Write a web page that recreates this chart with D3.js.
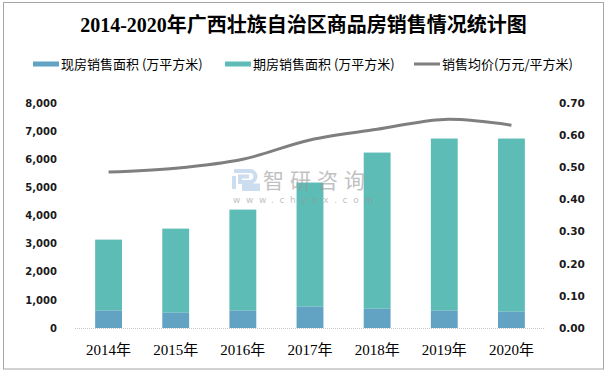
<!DOCTYPE html>
<html>
<head>
<meta charset="utf-8">
<script src="https://cdn.jsdelivr.net/npm/d3@7"></script>
<style>
body { margin: 0; background: #fff; }
svg { display: block; }
</style>
</head>
<body>
<div id="chart"></div>
<script>
// data
var years = ["2014年", "2015年", "2016年", "2017年", "2018年", "2019年", "2020年"];
var xianfang = [616, 545, 616, 758, 687, 616, 580];       // 现房销售面积
var qifang = [2526, 2989, 3594, 4413, 5551, 6121, 6157];  // 期房销售面积
var price = [0.485, 0.497, 0.525, 0.585, 0.618, 0.649, 0.631]; // 销售均价
var leftTicks = [0, 1000, 2000, 3000, 4000, 5000, 6000, 7000, 8000];
var rightTicks = [0, 0.1, 0.2, 0.3, 0.4, 0.5, 0.6, 0.7];

var W = 607, H = 373;
var cjk = "'Noto Sans CJK SC', sans-serif";

var svg = d3.select("#chart").append("svg")
  .attr("width", W).attr("height", H);

// outer border
svg.append("rect")
  .attr("x", 3.5).attr("y", 2.5)
  .attr("width", 600).attr("height", 366.5)
  .attr("fill", "none").attr("stroke", "#a6a6a6");

// title
svg.append("text")
  .attr("x", 303.5).attr("y", 32)
  .attr("text-anchor", "middle")
  .style("font-family", "'Liberation Serif', 'Noto Sans CJK SC', serif")
  .style("font-weight", "bold")
  .style("font-size", "20px")
  .attr("fill", "#000")
  .text("2014-2020年广西壮族自治区商品房销售情况统计图");

// scales
var x = d3.scaleBand().domain(years).range([75, 545]).paddingInner(0.6).paddingOuter(0.3);
var y = d3.scaleLinear().domain([0, 8000]).range([328, 103]);
var y2 = d3.scaleLinear().domain([0, 0.7]).range([328, 103]);

// stacked bars
var stacks = years.map(function(d, i) {
  return { year: d, a: xianfang[i], b: qifang[i] };
});

svg.append("g").selectAll("rect")
  .data(stacks)
  .enter().append("rect")
  .attr("x", function(d) { return x(d.year); })
  .attr("width", x.bandwidth())
  .attr("y", function(d) { return y(d.a + d.b); })
  .attr("height", function(d) { return y(d.a) - y(d.a + d.b); })
  .attr("fill", "#5dbcb5");

svg.append("g").selectAll("rect")
  .data(stacks)
  .enter().append("rect")
  .attr("x", function(d) { return x(d.year); })
  .attr("width", x.bandwidth())
  .attr("y", function(d) { return y(d.a); })
  .attr("height", function(d) { return y(0) - y(d.a); })
  .attr("fill", "#62a2c2");

// baseline
svg.append("line")
  .attr("x1", 75).attr("x2", 545)
  .attr("y1", 328.5).attr("y2", 328.5)
  .attr("stroke", "#c8c8c8").attr("stroke-dasharray", "1,1");

// price line
var line = d3.line()
  .x(function(d, i) { return x(years[i]) + x.bandwidth() / 2; })
  .y(function(d) { return y2(d); })
  .curve(d3.curveCatmullRom.alpha(0.5));

svg.append("path")
  .datum(price)
  .attr("d", line)
  .attr("fill", "none")
  .attr("stroke", "#7f7f7f")
  .attr("stroke-width", 3);

// watermark (sits on top of the bars, semi transparent)
var wm = svg.append("g").attr("opacity", 0.6);
wm.append("path")
  .attr("d", "M234,171h16a5.5,5.5 0 0 1 0,11h-10v-5.5h9M234,176v13M244,185.5h14v3.5h-14z")
  .attr("fill", "none").attr("stroke", "#a9c7e6").attr("stroke-width", 4);
wm.append("text")
  .attr("x", 263).attr("y", 188)
  .style("font-family", cjk).style("font-size", "21px")
  .style("letter-spacing", "6px")
  .attr("fill", "#999").text("智研咨询");
wm.append("text")
  .attr("x", 233).attr("y", 203)
  .style("font-family", "'DejaVu Sans', sans-serif").style("font-size", "9px")
  .style("letter-spacing", "5.6px")
  .attr("fill", "#999").text("www.chyxx.com");

// left axis
var gl = svg.append("g")
  .attr("transform", "translate(64,0)")
  .call(d3.axisLeft(y).tickValues(leftTicks).tickFormat(d3.format(",")).tickSize(0).tickPadding(7));
gl.select(".domain").remove();
gl.selectAll("text")
  .style("font-family", "'DejaVu Sans', sans-serif")
  .style("font-size", "10px")
  .style("font-weight", "bold")
  .attr("fill", "#1a1a1a");

// right axis
var gr = svg.append("g")
  .attr("transform", "translate(552,0)")
  .call(d3.axisRight(y2).tickValues(rightTicks).tickFormat(d3.format(".2f")).tickSize(0).tickPadding(7));
gr.select(".domain").remove();
gr.selectAll("text")
  .style("font-family", "'DejaVu Sans', sans-serif")
  .style("font-size", "10.5px")
  .style("font-weight", "bold")
  .attr("fill", "#1a1a1a");

// x axis labels
var gx = svg.append("g")
  .attr("transform", "translate(0,328)")
  .call(d3.axisBottom(x).tickSize(0).tickPadding(16));
gx.select(".domain").remove();
gx.selectAll("text")
  .style("font-family", "'Liberation Serif', 'Noto Sans CJK SC', serif")
  .style("font-size", "15px")
  .attr("fill", "#000");

// legend
var legend = [
  { name: "现房销售面积 (万平方米)", color: "#62a2c2", type: "bar", x: 33 },
  { name: "期房销售面积 (万平方米)", color: "#5dbcb5", type: "bar", x: 225 },
  { name: "销售均价(万元/平方米)", color: "#7f7f7f", type: "line", x: 414 }
];
var lg = svg.append("g").selectAll("g")
  .data(legend)
  .enter().append("g")
  .attr("transform", function(d) { return "translate(" + d.x + ",64)"; });
lg.append("rect")
  .attr("x", 0).attr("width", 26)
  .attr("y", function(d) { return d.type == "bar" ? -2.5 : -1.5; })
  .attr("height", function(d) { return d.type == "bar" ? 5 : 3; })
  .attr("fill", function(d) { return d.color; });
lg.append("text")
  .attr("x", 28).attr("y", 4.5)
  .style("font-family", cjk)
  .style("font-size", "13px")
  .attr("fill", "#000")
  .text(function(d) { return d.name; });
</script>
</body>
</html>
